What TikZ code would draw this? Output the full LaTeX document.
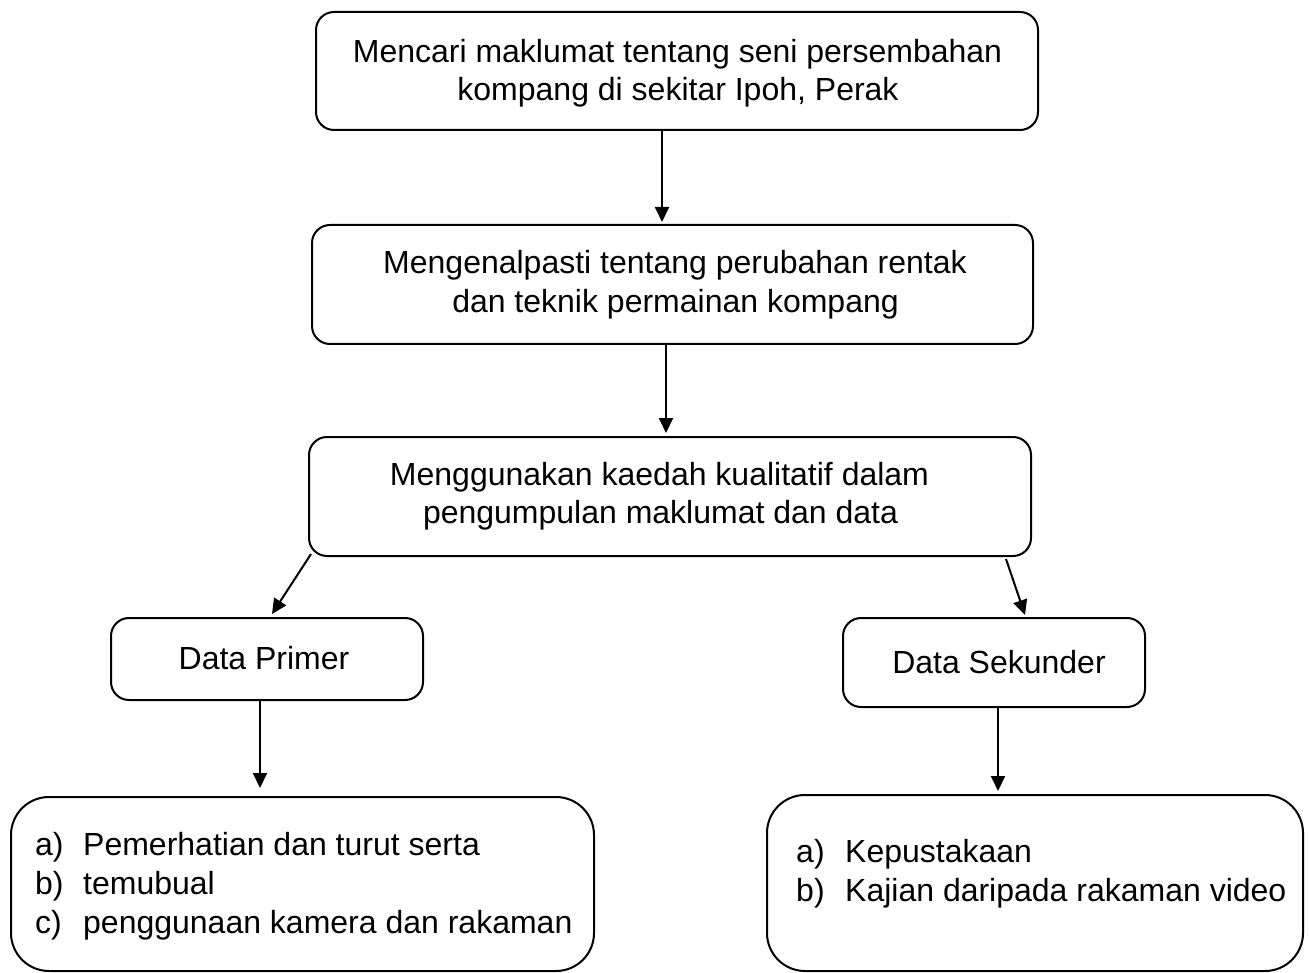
\documentclass[tikz,border=0pt]{standalone}
\usepackage{fontspec}
\setmainfont{Liberation Sans}
\usetikzlibrary{arrows.meta}
\begin{document}
\begin{tikzpicture}[x=1pt,y=-1pt,
  box/.style={draw=black, line width=2pt, rounded corners=18pt, inner sep=0pt, anchor=north west},
  bigbox/.style={box, rounded corners=38pt},
  arr/.style={line width=2pt, -{Triangle[width=14pt,length=15pt]}},
  txt/.style={inner sep=0pt, anchor=base, font=\fontsize{32}{38}\selectfont},
  ltxt/.style={txt, anchor=base west}]
\useasboundingbox (0,0) rectangle (1309,973);
% boxes
\node[box, minimum width=722pt, minimum height=118pt] (b1) at (315,11) {};
\node[box, minimum width=721pt, minimum height=119pt] (b2) at (311,224) {};
\node[box, minimum width=722pt, minimum height=119pt] (b3) at (308,436) {};
\node[box, minimum width=312pt, minimum height=82pt] (b4) at (110,617) {};
\node[box, minimum width=302pt, minimum height=89pt] (b5) at (842,617) {};
\node[bigbox, minimum width=583pt, minimum height=174pt] (b6) at (10,796) {};
\node[bigbox, minimum width=536pt, minimum height=176pt] (b7) at (766,794) {};
% texts
\node[txt] (t1a) at (677.5,63) {Mencari maklumat tentang seni persembahan};
\node[txt] (t1b) at (678,101) {kompang di sekitar Ipoh, Perak};
\node[txt] (t2a) at (675,274) {Mengenalpasti tentang perubahan rentak};
\node[txt] (t2b) at (675.5,313) {dan teknik permainan kompang};
\node[txt] (t3a) at (659.5,485) {Menggunakan kaedah kualitatif dalam};
\node[txt] (t3b) at (660.5,523) {pengumpulan maklumat dan data};
\node[txt] (t4) at (264,669) {Data Primer};
\node[txt] (t5) at (999,673) {Data Sekunder};
\node[ltxt] (l6a) at (35,855) {a)};
\node[ltxt] (t6a) at (83,855) {Pemerhatian dan turut serta};
\node[ltxt] (l6b) at (35,894) {b)};
\node[ltxt] (t6b) at (83,894) {temubual};
\node[ltxt] (l6c) at (35,933) {c)};
\node[ltxt] (t6c) at (83,933) {penggunaan kamera dan rakaman};
\node[ltxt] (l7a) at (796,862) {a)};
\node[ltxt] (t7a) at (845,862) {Kepustakaan};
\node[ltxt] (l7b) at (796,901) {b)};
\node[ltxt] (t7b) at (845,901) {Kajian daripada rakaman video};
% connectors
\draw[arr] ([xshift=-15pt]b1.south) -- ([xshift=-10.5pt,yshift=2pt]b2.north);
\draw[arr] ([xshift=-6.5pt]b2.south) -- ([xshift=-4pt,yshift=3pt]b3.north);
\draw[arr] ([xshift=3pt,yshift=3pt]b3.south west) -- ([xshift=5pt,yshift=3pt]b4.north);
\draw[arr] ([xshift=-26pt,yshift=-2pt]b3.south east) -- ([xshift=31pt,yshift=2pt]b5.north);
\draw[arr] ([xshift=-7pt]b4.south) -- ([xshift=-42.5pt,yshift=8pt]b6.north);
\draw[arr] ([xshift=4pt]b5.south) -- ([xshift=-37pt,yshift=3pt]b7.north);
\end{tikzpicture}
\end{document}
